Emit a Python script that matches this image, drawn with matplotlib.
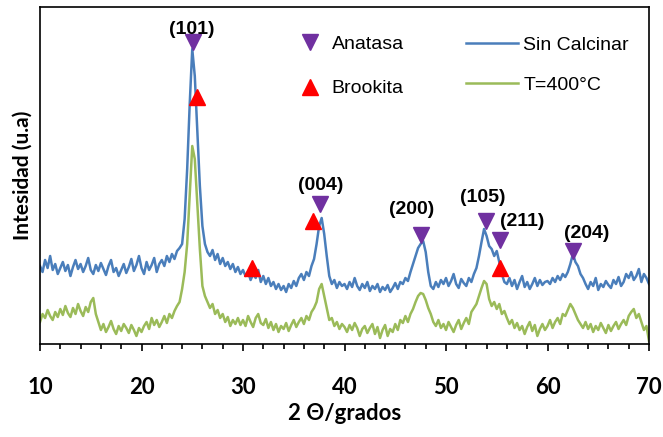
import numpy as np
import matplotlib
matplotlib.use('Agg')
import matplotlib.pyplot as plt
from matplotlib.lines import Line2D

# 2theta grid, 0.25 deg steps
two_theta = np.linspace(10, 70, 241)

# intensities (arbitrary units)
sin_calcinar = [
    78, 72, 84, 76, 88, 74, 80, 70,
    76, 82, 73, 79, 68, 77, 84, 75,
    80, 72, 78, 86, 74, 70, 79, 73,
    81, 75, 69, 78, 84, 72, 76, 68,
    74, 80, 71, 77, 85, 73, 79, 88,
    76, 70, 82, 74, 79, 86, 72, 80,
    84, 78, 88, 82, 90, 85, 93, 96,
    100, 125, 175, 240, 295, 268, 212, 158,
    118, 100, 92, 88, 94, 84, 90, 80,
    86, 78, 82, 75, 80, 72, 77, 70,
    74, 68, 72, 64, 70, 66, 74, 62,
    68, 60, 66, 58, 62, 55, 60, 54,
    58, 52, 60, 56, 63, 58, 66, 70,
    64, 72, 68, 78, 85, 100, 118, 126,
    110, 88, 68, 60, 64, 56, 62, 58,
    60, 55, 62, 57, 66, 58, 54, 60,
    56, 62, 53, 58, 55, 60, 52, 57,
    54, 59, 52, 56, 61, 55, 62, 60,
    66, 63, 72, 80, 88, 96, 100, 103,
    92, 72, 58, 55, 62, 57, 64, 60,
    66, 58, 63, 70, 60, 56, 65, 61,
    58, 66, 62, 70, 76, 88, 102, 115,
    108, 98, 95, 88, 93, 82, 70, 62,
    60, 66, 58, 64, 55, 62, 68, 57,
    62, 55, 60, 66, 58, 64, 59, 62,
    63, 60, 66, 62, 68, 64, 70, 67,
    72, 80, 90, 82, 78, 70, 66, 60,
    55, 62, 58, 66, 54, 60, 57, 63,
    59, 56, 64, 60, 67, 58, 62, 70,
    66, 72, 64, 68, 75, 62, 70, 66,
    60,
]

t400 = [
    22, 30, 26, 34, 28, 24, 32, 27,
    35, 29, 38, 31, 27, 36, 30, 40,
    33, 28, 37, 32, 42, 46, 30, 22,
    14, 20, 12, 17, 23, 15, 10, 18,
    13, 20, 16, 11, 19, 14, 8, 16,
    12, 18, 22, 15, 26, 19, 24, 17,
    22, 28, 21, 30, 26, 33, 38, 42,
    55, 72, 100, 150, 198, 185, 140, 95,
    58, 48, 42, 36, 40, 30, 34, 26,
    30, 22, 27, 18, 24, 20, 26, 19,
    24, 18, 28, 22, 17, 26, 30, 21,
    19, 25, 16, 22, 14, 20, 12, 18,
    15, 21, 13, 19, 24, 17, 22, 26,
    20, 28, 24, 32, 36, 42, 55, 60,
    48, 36, 24, 26, 18, 22, 15, 20,
    17, 12, 19, 14, 21, 16, 8, 15,
    18, 11, 16, 20, 10, 17, 6, 14,
    19, 8, 15, 12, 20, 14, 24, 21,
    28, 22, 30, 35, 42, 48, 51, 50,
    44, 36, 30, 22, 18, 24, 16, 20,
    14, 22, 17, 12, 19, 24, 15, 21,
    26, 20, 32, 36, 40, 48, 56, 63,
    60, 45, 38, 42, 35, 40, 30, 33,
    26, 20, 24, 16, 21, 14, 18, 10,
    17, 22, 13, 19, 8, 15, 20, 14,
    18, 24, 16, 22, 26, 20, 30, 28,
    34, 40, 36, 30, 24, 20, 16, 22,
    15, 20, 12, 18, 14, 21, 16, 11,
    19, 13, 18, 22, 15, 20, 24, 19,
    28, 32, 35, 26, 30, 22, 14, 18,
    3,
]

# phase markers
anatasa_x = [25.1, 37.6, 47.5, 53.9, 55.3, 62.5]
anatasa_y = [302, 140, 109, 123, 104, 93]
brookita_x = [25.5, 30.9, 36.9, 55.3]
brookita_y = [247, 76, 123, 76]

# Miller indices
hkl_labels = ['(101)', '(004)', '(200)', '(105)', '(211)', '(204)']
hkl_x = [25.0, 37.7, 46.6, 53.6, 57.5, 63.9]
hkl_y = [315, 159, 134, 147, 122, 111]

blue = '#4A7EBB'
green = '#9BBB59'
purple = '#7030A0'
red = '#FF0000'
txt_font = ['Liberation Sans', 'DejaVu Sans']
ax_font = ['Lato', 'DejaVu Sans']

fig = plt.figure(figsize=(6.63, 4.37), dpi=100)
ax = fig.add_axes([40/663, 1 - 344/437, 609/663, 337/437])

ax.plot(two_theta, sin_calcinar, color=blue, lw=1.8, label='Sin Calcinar')
ax.plot(two_theta, t400, color=green, lw=1.8, label='T=400°C')
ax.plot(anatasa_x, anatasa_y, ls='none', marker='v', ms=12, color=purple)
ax.plot(brookita_x, brookita_y, ls='none', marker='^', ms=12, color=red)

for lab, x, y in zip(hkl_labels, hkl_x, hkl_y):
    ax.text(x, y, lab, ha='center', va='center', fontsize=14,
            fontweight='bold', family=txt_font)

ax.set_xlim(10, 70)
ax.set_ylim(0, 337)
ax.set_yticks([])
ax.set_xticks(np.arange(10, 71, 10))
ax.set_xticks(np.arange(10, 71, 2), minor=True)
ax.tick_params(axis='x', which='major', direction='out', length=5, width=1.2, pad=18.5)
ax.tick_params(axis='x', which='minor', direction='out', length=3.5, width=1.2)
for lbl in ax.get_xticklabels():
    lbl.set_fontsize(16)
    lbl.set_fontweight('bold')
    lbl.set_family(ax_font)
for sp in ax.spines.values():
    sp.set_linewidth(1.2)

ax.set_xlabel('2 Θ/grados', fontsize=16, fontweight='bold', family=ax_font, labelpad=4)
ax.set_ylabel('Intesidad (u.a)', fontsize=15, fontweight='bold', family=ax_font, labelpad=5)

phase_handles = [
    Line2D([], [], ls='none', marker='v', ms=12, color=purple),
    Line2D([], [], ls='none', marker='^', ms=12, color=red),
]
leg1 = ax.legend(phase_handles, ['Anatasa', 'Brookita'], loc='upper left',
                 bbox_to_anchor=(0.427, 0.917), frameon=False, borderpad=0,
                 borderaxespad=0, handlelength=1.0, handletextpad=0.62,
                 labelspacing=1.4, prop={'family': txt_font, 'size': 14})
ax.add_artist(leg1)
ax.legend(loc='upper left', bbox_to_anchor=(0.6995, 0.914), frameon=False,
          borderpad=0, borderaxespad=0, handlelength=2.68, handletextpad=0.26,
          labelspacing=1.15, prop={'family': txt_font, 'size': 14})

fig.savefig('out.png', dpi=100)
